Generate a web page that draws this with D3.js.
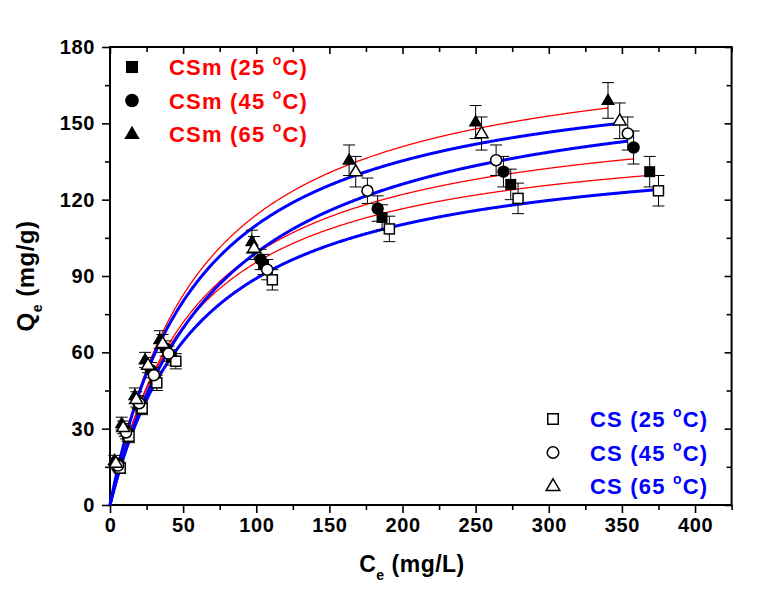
<!DOCTYPE html>
<html>
<head>
<meta charset="utf-8">
<script src="https://cdn.jsdelivr.net/npm/d3@7"></script>
<style>
  html, body { margin: 0; padding: 0; background: #fff; }
  svg { display: block; font-family: "Liberation Sans", Arial, sans-serif; }
</style>
</head>
<body>
<svg id="chart" width="768" height="593"></svg>
<script>
// ---------------- DATA ----------------
const xTicks = [0, 50, 100, 150, 200, 250, 300, 350, 400];
const yTicks = [0, 30, 60, 90, 120, 150, 180];

// CSm (filled symbols)
const ceCSm25 = [6, 12, 21, 31, 42, 105, 186, 274, 369];
const qeCSm25 = [15, 27.5, 39, 49.5, 58, 94.5, 113, 126, 131];
const erCSm25 = [2, 2.5, 2.5, 3, 3, 4, 5, 6, 6];

const ceCSm45 = [5, 10, 19, 28, 38, 103, 183, 269, 358];
const qeCSm45 = [16, 29.5, 40.5, 53, 61.5, 96.5, 116.5, 131, 140.5];
const erCSm45 = [2, 2.5, 2.5, 3, 3, 4, 5, 6, 6.5];

const ceCSm65 = [3, 8, 17, 24, 34, 97, 163.5, 250, 340.5];
const qeCSm65 = [17.5, 32, 43, 57, 65, 103.5, 135.5, 150.5, 159];
const erCSm65 = [2, 2.5, 3, 3, 3.5, 4.5, 6, 6.5, 7];

// CS (open symbols)
const ceCS25 = [7, 13, 22, 32, 45, 111, 191, 279, 375];
const qeCS25 = [14.5, 27, 38, 48, 56.5, 88.5, 108.5, 120.5, 123.5];
const erCS25 = [2, 2.5, 2.5, 3, 3, 4, 5, 6, 6];

const ceCS45 = [5.5, 11, 20, 30, 40, 107.5, 176, 264, 354];
const qeCS45 = [15.5, 28.5, 40, 51, 59.5, 92.5, 123.5, 135.5, 146];
const erCS45 = [2, 2.5, 2.5, 3, 3, 4, 5, 6, 6.5];

const ceCS65 = [4, 9, 18, 26, 36, 98.5, 168, 254, 348.5];
const qeCS65 = [16.5, 30.5, 41.5, 55, 63.5, 101, 131, 146, 151];
const erCS65 = [2, 2.5, 3, 3, 3.5, 4.5, 6, 6.5, 7];

// Langmuir fit parameters (qm, KL) for each series
const seriesNames = ["CSm (25 °C)", "CSm (45 °C)", "CSm (65 °C)", "CS (25 °C)", "CS (45 °C)", "CS (65 °C)"];
const fitQm = [149.5, 159.2, 184.3, 144.6, 173.1, 175.7];
const fitKL = [0.0176, 0.01641, 0.01621, 0.01603, 0.01342, 0.01673];

// ---------------- LAYOUT ----------------
const svg = d3.select("#chart");
const X0 = 110, X1 = 731.6, Y0 = 505, Y1 = 47;
const x = d3.scaleLinear().domain([0, 425]).range([X0, X1]);
const y = d3.scaleLinear().domain([0, 180]).range([Y0, Y1]);

const RED = "#ff0000", BLUE = "#0000ff";
const FONT = "'Liberation Sans', Arial, sans-serif";

const series = [
  {name: seriesNames[0], ce: ceCSm25, qe: qeCSm25, er: erCSm25, shape: "square",   open: false, color: RED,  lw: 1.3, qm: fitQm[0], k: fitKL[0]},
  {name: seriesNames[1], ce: ceCSm45, qe: qeCSm45, er: erCSm45, shape: "circle",   open: false, color: RED,  lw: 1.3, qm: fitQm[1], k: fitKL[1]},
  {name: seriesNames[2], ce: ceCSm65, qe: qeCSm65, er: erCSm65, shape: "triangle", open: false, color: RED,  lw: 1.3, qm: fitQm[2], k: fitKL[2]},
  {name: seriesNames[3], ce: ceCS25,  qe: qeCS25,  er: erCS25,  shape: "square",   open: true,  color: BLUE, lw: 3,   qm: fitQm[3], k: fitKL[3]},
  {name: seriesNames[4], ce: ceCS45,  qe: qeCS45,  er: erCS45,  shape: "circle",   open: true,  color: BLUE, lw: 3,   qm: fitQm[4], k: fitKL[4]},
  {name: seriesNames[5], ce: ceCS65,  qe: qeCS65,  er: erCS65,  shape: "triangle", open: true,  color: BLUE, lw: 3,   qm: fitQm[5], k: fitKL[5]}
];

// ---------------- AXES ----------------
const minorX = d3.range(0, 426, 25).filter(v => v % 50 !== 0);
const minorY = d3.range(0, 181, 15).filter(v => v % 30 !== 0);

const axisG = svg.append("g");
// bottom
axisG.append("g").attr("transform", `translate(0,${Y0})`)
  .call(d3.axisBottom(x).tickValues(xTicks).tickSize(8).tickPadding(5).tickFormat(d3.format("d")));
axisG.append("g").attr("transform", `translate(0,${Y0})`)
  .call(d3.axisBottom(x).tickValues(minorX).tickSize(5).tickFormat(""));
// left
axisG.append("g").attr("transform", `translate(${X0},0)`)
  .call(d3.axisLeft(y).tickValues(yTicks).tickSize(8).tickPadding(7).tickFormat(d3.format("d")));
axisG.append("g").attr("transform", `translate(${X0},0)`)
  .call(d3.axisLeft(y).tickValues(minorY).tickSize(5).tickFormat(""));
// top (inward)
axisG.append("g").attr("transform", `translate(0,${Y1})`)
  .call(d3.axisBottom(x).tickValues(xTicks).tickSize(7).tickFormat(""));
axisG.append("g").attr("transform", `translate(0,${Y1})`)
  .call(d3.axisBottom(x).tickValues(minorX).tickSize(5).tickFormat(""));
// right (inward)
axisG.append("g").attr("transform", `translate(${X1},0)`)
  .call(d3.axisLeft(y).tickValues(yTicks).tickSize(7).tickFormat(""));
axisG.append("g").attr("transform", `translate(${X1},0)`)
  .call(d3.axisLeft(y).tickValues(minorY).tickSize(5).tickFormat(""));

axisG.selectAll(".domain").remove();
axisG.selectAll(".tick line").attr("stroke", "#000").attr("stroke-width", 1.6);
axisG.selectAll(".tick text").attr("font-size", 20).attr("font-weight", "bold")
  .attr("letter-spacing", 0.6).attr("font-family", FONT).attr("fill", "#000");

// frame
svg.append("rect").attr("x", X0).attr("y", Y1).attr("width", X1 - X0).attr("height", Y0 - Y1)
  .attr("fill", "none").attr("stroke", "#000").attr("stroke-width", 2);

// axis titles
const xt = svg.append("text").attr("x", 412).attr("y", 572).attr("text-anchor", "middle")
  .attr("font-size", 23).attr("font-weight", "bold").attr("letter-spacing", 0.5);
xt.append("tspan").text("C");
xt.append("tspan").attr("font-size", 14).attr("dy", 8).text("e");
xt.append("tspan").attr("dy", -8).text(" (mg/L)");

const yt = svg.append("text").attr("transform", `translate(34,${(Y0 + Y1) / 2}) rotate(-90)`)
  .attr("text-anchor", "middle").attr("font-size", 24).attr("font-weight", "bold").attr("letter-spacing", 0.5);
yt.append("tspan").text("Q");
yt.append("tspan").attr("font-size", 14).attr("dy", 8).text("e");
yt.append("tspan").attr("dy", -8).text(" (mg/g)");

// ---------------- FIT CURVES ----------------
const plot = svg.append("g");
const line = d3.line().x(d => x(d[0])).y(d => y(d[1]));
series.forEach(s => {
  const end = s.ce[s.ce.length - 1];
  s.curve = d3.range(0, end, 0.5).concat([end]).map(c => [c, s.qm * s.k * c / (1 + s.k * c)]);
});
series.forEach(s => {
  plot.append("path").attr("d", line(s.curve)).attr("fill", "none")
    .attr("stroke", s.color).attr("stroke-width", s.lw);
});

// ---------------- MARKERS ----------------
function drawMarker(g, shape, open, cx, cy, scale = 1) {
  const fill = open ? "#fff" : "#000";
  const sw = open ? 1.5 : 0;
  if (shape === "square") {
    const a = (open ? 10 : 11) * scale;
    g.append("rect").attr("x", cx - a / 2).attr("y", cy - a / 2).attr("width", a).attr("height", a)
      .attr("fill", fill).attr("stroke", "#000").attr("stroke-width", sw);
  } else if (shape === "circle") {
    g.append("circle").attr("cx", cx).attr("cy", cy).attr("r", (open ? 5.5 : 6.2) * scale)
      .attr("fill", fill).attr("stroke", "#000").attr("stroke-width", sw);
  } else {
    const h = (open ? 11 : 12) * scale, w = (open ? 13 : 14) * scale;
    g.append("path").attr("d", `M${cx},${cy - h * 0.62}L${cx + w / 2},${cy + h * 0.38}L${cx - w / 2},${cy + h * 0.38}Z`)
      .attr("fill", fill).attr("stroke", "#000").attr("stroke-width", sw).attr("stroke-linejoin", "miter");
  }
}

const marks = svg.append("g");
// error bars
series.forEach(s => {
  s.ce.forEach((c, i) => {
    const cx = x(c), yt2 = y(s.qe[i] + s.er[i]), yb = y(s.qe[i] - s.er[i]);
    marks.append("line").attr("x1", cx).attr("x2", cx).attr("y1", yt2).attr("y2", yb)
      .attr("stroke", "#000").attr("stroke-width", 1);
    [yt2, yb].forEach(yy => marks.append("line").attr("x1", cx - 6).attr("x2", cx + 6)
      .attr("y1", yy).attr("y2", yy).attr("stroke", "#000").attr("stroke-width", 1));
  });
});
series.forEach(s => {
  s.ce.forEach((c, i) => drawMarker(marks, s.shape, s.open, x(c), y(s.qe[i])));
});

// ---------------- LEGENDS ----------------
function legendText(g, tx, ty, s) {
  const m = s.name.match(/^(.*\()(\d+) °C\)$/);
  const t = g.append("text").attr("x", tx).attr("y", ty).attr("font-size", 22)
    .attr("font-weight", "bold").attr("fill", s.color).attr("letter-spacing", 1.2);
  t.append("tspan").text(m[1] + m[2] + " ");
  t.append("tspan").attr("font-size", 14).attr("dy", -10).text("o");
  t.append("tspan").attr("dy", 10).text("C)");
}
const leg = svg.append("g");
series.slice(0, 3).forEach((s, i) => {
  const cy = 67 + i * 33.5;
  drawMarker(leg, s.shape, s.open, 132, cy, 1.1);
  legendText(leg, 169, cy + 8, s);
});
series.slice(3).forEach((s, i) => {
  const cy = 419 + i * 33.5;
  drawMarker(leg, s.shape, s.open, 553, cy, 1.05);
  legendText(leg, 590, cy + 8, s);
});
</script>
</body>
</html>
